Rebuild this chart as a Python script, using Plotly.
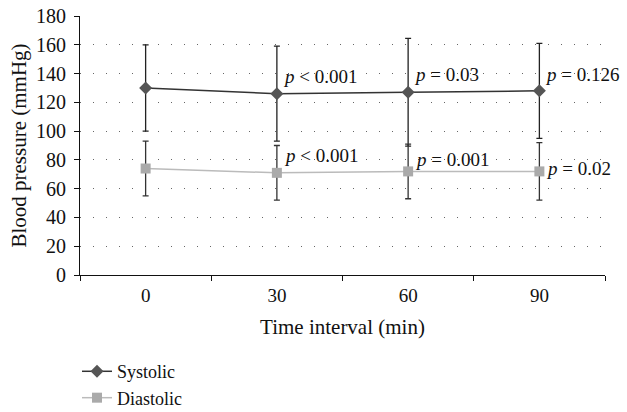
import plotly.graph_objects as go

categories = ["0", "30", "60", "90"]
systolic = [130, 126, 127, 128]
systolic_err = [30, 33, 37.5, 33]
diastolic = [74, 71, 72, 72]
diastolic_err = [19, 19, 19, 20]
sys_p = ["<i>p</i> < 0.001", "<i>p</i> = 0.03", "<i>p</i> = 0.126"]
sys_p_y = [138, 139, 139]
dia_p = ["<i>p</i> < 0.001", "<i>p</i> = 0.001", "<i>p</i> = 0.02"]
dia_p_y = [83, 80, 74]

FONT = "Liberation Serif"

fig = go.Figure()
fig.add_trace(go.Scatter(
    x=categories, y=systolic, name="Systolic", mode="lines+markers",
    line=dict(color="#333333", width=1.5),
    marker=dict(symbol="diamond", size=10, color="#555555"),
    error_y=dict(type="data", array=systolic_err, visible=True, color="#222222", thickness=1.3, width=3),
))
fig.add_trace(go.Scatter(
    x=categories, y=diastolic, name="Diastolic", mode="lines+markers",
    line=dict(color="#bbbbbb", width=1.5),
    marker=dict(symbol="square", size=10, color="#aaaaaa"),
    error_y=dict(type="data", array=diastolic_err, visible=True, color="#333333", thickness=1.3, width=3),
))

for i, (t, y) in enumerate(zip(sys_p, sys_p_y)):
    fig.add_annotation(x=i + 1, y=y, xref="x", yref="y", text=t, showarrow=False,
                       xanchor="left", yanchor="middle", xshift=4,
                       font=dict(family=FONT, size=19, color="#111111"))
for i, (t, y) in enumerate(zip(dia_p, dia_p_y)):
    fig.add_annotation(x=i + 1, y=y, xref="x", yref="y", text=t, showarrow=False,
                       xanchor="left", yanchor="middle", xshift=5,
                       font=dict(family=FONT, size=19, color="#111111"))

# y-axis title as a rotated annotation
fig.add_annotation(x=-0.118, y=0.5, xref="paper", yref="paper",
                   text="Blood pressure (mmHg)", textangle=-90, showarrow=False,
                   xanchor="center", yanchor="middle",
                   font=dict(family=FONT, size=21, color="#111111"))

fig.update_layout(
    width=627, height=412,
    margin=dict(l=80, r=22, t=16, b=137, autoexpand=False),
    paper_bgcolor="white", plot_bgcolor="white",
    font=dict(family=FONT, size=19, color="#111111"),
    showlegend=True,
    legend=dict(xref="container", yref="container", x=0.1228, y=0.143,
                xanchor="left", yanchor="top",
                orientation="v", font=dict(family=FONT, size=18),
                tracegroupgap=0, itemwidth=30, bgcolor="rgba(0,0,0,0)"),
    xaxis=dict(
        type="category", range=[-0.5, 3.5], automargin=False,
        showline=True, linecolor="#111111", linewidth=1.2,
        ticks="outside", tickson="boundaries", ticklen=5, tickcolor="#111111",
        ticklabelstandoff=3,
        showgrid=False, zeroline=False, ticklabeloverflow="allow",
        tickfont=dict(family=FONT, size=19),
        title=dict(text="Time interval (min)", font=dict(family=FONT, size=21), standoff=14),
    ),
    yaxis=dict(
        range=[0, 180], dtick=20, automargin=False,
        showline=True, linecolor="#111111", linewidth=1.2,
        ticks="outside", ticklen=5, tickcolor="#111111", ticklabelstandoff=4,
        ticklabeloverflow="allow",
        showgrid=True, gridcolor="#666666", griddash="1px,12px", gridwidth=1,
        zeroline=False,
        tickfont=dict(family=FONT, size=20),
    ),
)

fig.write_html("out.html", config={"displayModeBar": False},
               post_script="document.body.style.margin='0px';")
